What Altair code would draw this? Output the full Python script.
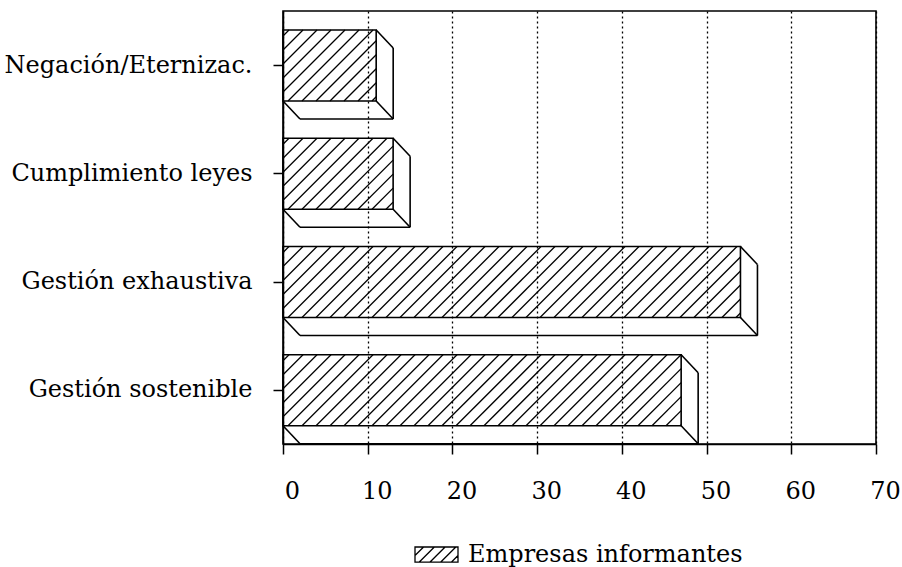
import json
import altair as alt
import pandas as pd

# Categorías (de arriba abajo) y número de empresas informantes
categorias = ["Negación/Eternizac.", "Cumplimiento leyes", "Gestión exhaustiva", "Gestión sostenible"]
valores = [11, 13, 54, 47]
serie = "Empresas informantes"
ticks_x = [0, 10, 20, 30, 40, 50, 60, 70]

FONT = "DejaVu Serif"
W, H = 593, 433
XMAX = 70
N = len(categorias)
PXX = W / XMAX          # px por unidad en x
PXY = H / N             # px por categoría en y

# geometría de las barras en píxeles
FACE_TOP = 19           # hueco sobre la cara frontal
FACE_H = 71             # alto de la cara frontal
DX, DY = 17, 18         # profundidad del efecto 3D
HATCH = 14              # paso horizontal del rayado

df = pd.DataFrame({
    "categoria": categorias,
    "valor": valores,
    "orden": list(range(N)),
})

base = alt.Chart(df).transform_calculate(
    y_top=f"{N} - datum.orden - {FACE_TOP / PXY}",
    y_bot=f"{N} - datum.orden - {(FACE_TOP + FACE_H) / PXY}",
    serie=f"'{serie}'",
)

xs = alt.Scale(domain=[0, XMAX], nice=False, zero=True)
ys = alt.Scale(domain=[0, N], nice=False, zero=True)

label_expr = f"{json.dumps(categorias, ensure_ascii=False)}[{N - 1} - floor(datum.value)]"

x_axis = alt.Axis(
    values=ticks_x, title=None, grid=True, gridDash=[2, 3], gridColor="black",
    gridWidth=1.3, tickSize=10, tickColor="black", tickWidth=1.5,
    domainColor="black", domainWidth=1.5, labelFont=FONT, labelFontSize=24,
    labelColor="black", labelPadding=25, labelOffset=9, labelFlush=False,
    zindex=1,
)
y_axis = alt.Axis(
    values=[N - i - 0.5 for i in range(N)], labelExpr=label_expr, title=None,
    grid=False, tickSize=10, tickColor="black", tickWidth=1.5,
    domainColor="black", domainWidth=1.5, labelFont=FONT, labelFontSize=24,
    labelColor="black", labelPadding=21, labelLimit=400, zindex=1,
)

# símbolo de la leyenda: rectángulo rayado
swatch = ("M-1,-0.35H1V0.35H-1Z "
          "M-1,0.05L-0.6,-0.35 M-0.8,0.35L-0.1,-0.35 M-0.3,0.35L0.4,-0.35 "
          "M0.2,0.35L0.9,-0.35 M0.7,0.35L1,0.05")

front = base.mark_rect(stroke="black", strokeWidth=1.6).encode(
    x=alt.X("x0:Q", scale=xs, axis=x_axis),
    x2=alt.X2("valor:Q"),
    y=alt.Y("y_top:Q", scale=ys, axis=y_axis),
    y2=alt.Y2("y_bot:Q"),
    fill=alt.Fill("serie:N", scale=alt.Scale(range=["white"]), legend=alt.Legend(
        title=None, orient="none", legendX=131, legendY=521, padding=0,
        symbolType=swatch, symbolSize=1849, symbolStrokeColor="black",
        symbolStrokeWidth=1.3, symbolOffset=0, labelOffset=9,
        labelFont=FONT, labelFontSize=24, labelColor="black", labelLimit=400,
    )),
).transform_calculate(x0="0")

# rayado diagonal de la cara frontal
hatch = base.transform_calculate(
    wpx=f"datum.valor * {PXX}",
).transform_calculate(
    k=f"sequence(0, ceil((datum.wpx + {FACE_H}) / {HATCH}) + 1)",
).transform_flatten(["k"]).transform_calculate(
    c=f"-{FACE_H} + datum.k * {HATCH} + 6",
).transform_calculate(
    xs_=f"max(datum.c, 0)",
    xe_=f"min(datum.wpx, datum.c + {FACE_H})",
).transform_filter("datum.xe_ > datum.xs_").transform_calculate(
    hx=f"datum.xs_ / {PXX}",
    hy=f"datum.y_bot + (datum.xs_ - datum.c) / {PXY}",
    hx2=f"datum.xe_ / {PXX}",
    hy2=f"datum.y_bot + (datum.xe_ - datum.c) / {PXY}",
).mark_rule(color="black", strokeWidth=1.3).encode(
    x=alt.X("hx:Q", scale=xs), y=alt.Y("hy:Q", scale=ys),
    x2="hx2:Q", y2="hy2:Q",
)

ddx = DX / PXX
ddy = DY / PXY

def edge(x1, y1, x2, y2):
    return base.transform_calculate(
        ax=x1, ay=y1, bx=x2, by=y2,
    ).mark_rule(color="black", strokeWidth=1.6).encode(
        x=alt.X("ax:Q", scale=xs), y=alt.Y("ay:Q", scale=ys),
        x2="bx:Q", y2="by:Q",
    )

edges = [
    # cara lateral derecha
    edge("datum.valor", "datum.y_top", f"datum.valor + {ddx}", f"datum.y_top - {ddy}"),
    edge(f"datum.valor + {ddx}", f"datum.y_top - {ddy}", f"datum.valor + {ddx}", f"datum.y_bot - {ddy}"),
    edge(f"datum.valor + {ddx}", f"datum.y_bot - {ddy}", "datum.valor", "datum.y_bot"),
    # cara inferior
    edge("0", "datum.y_bot", f"{ddx}", f"datum.y_bot - {ddy}"),
    edge(f"{ddx}", f"datum.y_bot - {ddy}", f"datum.valor + {ddx}", f"datum.y_bot - {ddy}"),
]

chart = alt.layer(front, hatch, *edges).properties(
    width=W, height=H,
    autosize=alt.AutoSizeParams(type="none"),
    padding={"left": 283, "top": 11, "right": 26, "bottom": 123},
).configure(
    background="white",
    view=alt.ViewConfig(stroke="black", strokeWidth=1.6),
)

chart.save("out.html", embed_options={"renderer": "svg", "actions": False})
